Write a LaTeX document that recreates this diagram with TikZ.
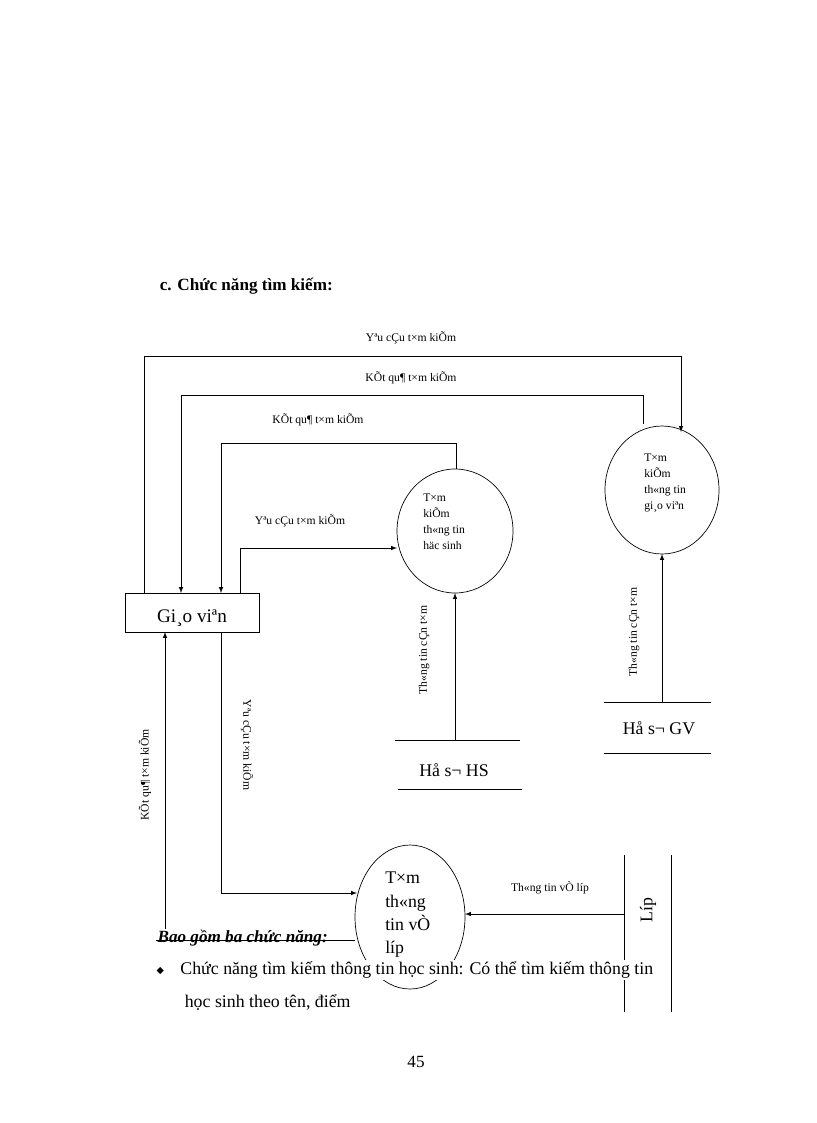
\documentclass[tikz,border=0pt]{standalone}
\usepackage{fontspec}
\setmainfont{Liberation Serif}
\newfontfamily\symfont{DejaVu Sans}
\begin{document}
\begin{tikzpicture}[x=0.73pt,y=-0.73pt,
  ln/.style={line width=0.5pt},
  arr/.style={ln,-latex},
  lbl/.style={font=\fontsize{8.5}{9}\selectfont,inner sep=0pt},
  proc/.style={draw,line width=0.5pt},
  ptxt/.style={font=\fontsize{8.5}{11.5}\selectfont,align=left,inner sep=0pt}]
\useasboundingbox (0,0) rectangle (816,1123);
\node[anchor=west,font=\fontsize{12.5}{14}\selectfont\bfseries] (title) at (155,286) {c. Chức năng tìm kiếm:};
% external entity
\draw[ln] (125,593) rectangle (259,632);
\node[font=\fontsize{14}{15}\selectfont] (gv) at (192,618) {Gi¸o viªn};
% processes
\draw[proc] (455,531) ellipse (58 and 62);
\node[ptxt,anchor=north west] (phs) at (423,494) {T×m\\kiÕm\\th«ng tin\\häc sinh};
\draw[proc] (662,490) ellipse (57 and 64);
\node[ptxt,anchor=north west] (pgv) at (644,454) {T×m\\kiÕm\\th«ng tin\\gi¸o viªn};
\draw[proc] (410,917) ellipse (55 and 72);
\node[font=\fontsize{13}{17}\selectfont,align=left,anchor=north west,inner sep=0pt] (plop) at (385,872) {T×m\\th«ng\\tin vÒ\\líp};
% stores
\draw[ln] (395,740) -- (520,740);
\draw[ln] (398,789) -- (522,789);
\node[font=\fontsize{13}{14}\selectfont] (shs) at (454,770) {Hå s¬ HS};
\draw[ln] (604,702) -- (711,702);
\draw[ln] (604,753) -- (711,753);
\node[font=\fontsize{13}{14}\selectfont] (sgv) at (659,728) {Hå s¬ GV};
\draw[ln] (624,855) -- (624,1012);
\draw[ln] (671,855) -- (671,1012);
\node[font=\fontsize{13}{14}\selectfont,rotate=90] (slop) at (648,910) {Líp};
% flows
\draw[arr] (144,593) -- (144,356) -- (681,356) -- (681,432);
\node[lbl] at (411,338) {Yªu cÇu t×m kiÕm};
\draw[arr] (643,424) -- (643,395) -- (181,395) -- (181,593);
\node[lbl] at (411,378) {KÕt qu¶ t×m kiÕm};
\draw[arr] (456,469) -- (456,443) -- (221,443) -- (221,593);
\node[lbl] at (318,420) {KÕt qu¶ t×m kiÕm};
\draw[arr] (240,593) -- (240,548) -- (397,548);
\node[lbl] at (300,521) {Yªu cÇu t×m kiÕm};
\draw[arr] (455,740) -- (455,593);
\node[lbl,rotate=90] at (424,650) {Th«ng tin cÇn t×m};
\draw[arr] (662,702) -- (662,554);
\node[lbl,rotate=90] at (634,632) {Th«ng tin cÇn t×m};
\draw[arr] (624,914) -- (465,914);
\node[lbl] at (550,888) {Th«ng tin vÒ líp};
\draw[arr] (221,632) -- (221,893) -- (357,893);
\node[lbl,rotate=-90] at (247,745) {Yªu cÇu t×m kiÕm};
\draw[arr] (165,930) -- (165,632);
\node[lbl,rotate=90] at (145,775) {KÕt qu¶ t×m kiÕm};
% body text
\node[anchor=west,font=\fontsize{12.5}{14}\selectfont\bfseries\itshape,fill=white,inner sep=1pt] (bao) at (156,938) {Bao gồm ba chức năng:};
\draw[ln] (156,940) -- (355,940);
\node[anchor=west,font=\fontsize{13}{14}\selectfont,fill=white,inner sep=1pt] (b1) at (155,970) {\raisebox{1pt}{\symfont\fontsize{7}{8}\selectfont ◆}\hspace{12pt}Chức năng tìm kiếm thông tin học sinh: Có thể tìm kiếm thông tin};
\node[anchor=west,font=\fontsize{13}{14}\selectfont] (b2) at (180,1003) {học sinh theo tên, điểm};
\node[font=\fontsize{12.5}{14}\selectfont] (pg) at (416,1062) {45};
\end{tikzpicture}
\end{document}
